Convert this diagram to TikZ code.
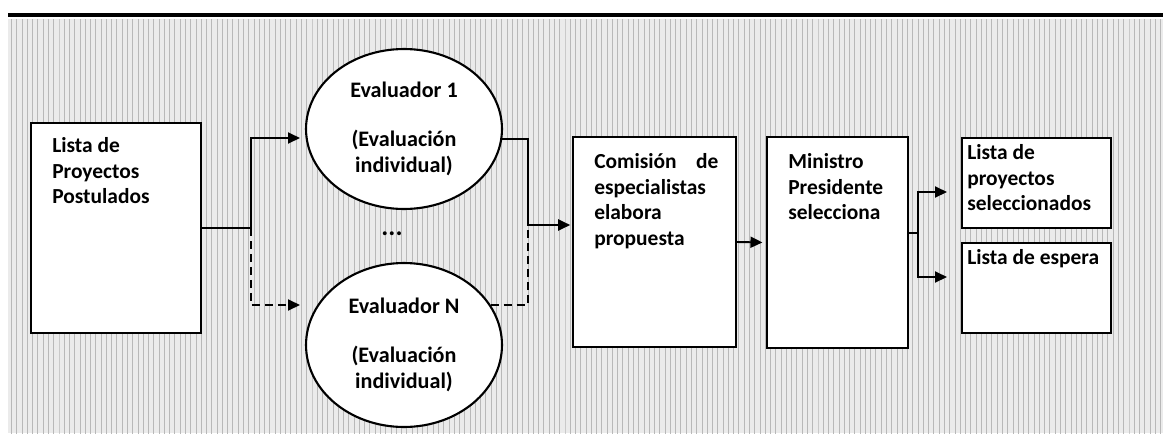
\documentclass[tikz,border=0pt]{standalone}
\usepackage{fontspec}
\setmainfont{Carlito}
\usetikzlibrary{shapes.geometric, arrows.meta, positioning, patterns}

\begin{document}
\begin{tikzpicture}[x=0.02cm, y=-0.02cm,
	box/.style={draw, line width=1.2pt, fill=white, rectangle, inner sep=0pt},
	evalnode/.style={draw, line width=1.2pt, fill=white, ellipse, inner sep=0pt, align=center, font=\bfseries\fontsize{12.6}{15}\selectfont},
	txt/.style={anchor=north west, inner sep=0pt, align=left, font=\bfseries\fontsize{12.2}{14.6}\selectfont},
	linea/.style={line width=1.1pt},
	flecha/.style={line width=1.1pt, -{Triangle[length=0.24cm, width=0.22cm]}},
	discont/.style={dash pattern=on 0.16cm off 0.1cm}]
	\useasboundingbox (0,0) rectangle (1163,433);
	\fill[black!8] (8,19) rectangle (1163,433);
	\fill[pattern=vertical lines, pattern color=black!28] (8,19) rectangle (1163,433);
	\draw[line width=1.9pt] (8,15) -- (1163,15);

	\node[box, minimum width=3.4cm, minimum height=4.2cm] (lista) at (116, 228) {};
	\node[txt] (listaT) at ([shift={(22,15)}]lista.north west) {Lista de\\Proyectos\\Postulados};

	\node[evalnode, minimum width=3.92cm, minimum height=3.2cm] (ev1) at (404, 129) {Evaluador 1\\[13pt](Evaluación\\individual)};
	\node[evalnode, minimum width=3.92cm, minimum height=3.28cm] (evN) at (404, 345) {Evaluador N\\[13pt](Evaluación\\individual)};
	\node[font=\bfseries\fontsize{15}{15}\selectfont] (dots) at (392, 234) {...};

	\node[box, minimum width=3.26cm, minimum height=4.2cm] (com) at (654.5, 242) {};
	\node[txt] (comT) at ([shift={(22,17)}]com.north west) {Comisión\hspace{0.9em}de\\especialistas\\elabora\\propuesta};

	\node[box, minimum width=2.82cm, minimum height=4.22cm] (min) at (837.5, 242.5) {};
	\node[txt] (minT) at ([shift={(22,17)}]min.north west) {Ministro\\Presidente\\selecciona};

	\node[box, minimum width=2.98cm, minimum height=1.8cm] (sel) at (1036.5, 183) {};
	\node[txt] (selT) at ([shift={(6,7)}]sel.north west) {Lista de\\proyectos\\seleccionados};
	\node[box, minimum width=2.98cm, minimum height=1.8cm] (esp) at (1036.5, 288) {};
	\node[txt] (espT) at ([shift={(6,7)}]esp.north west) {Lista de espera};

	\coordinate (sp1) at (251, 228);
	\coordinate (in1) at (300, 138);
	\coordinate (inN) at (300, 305);
	\coordinate (sp2) at (528, 225);
	\coordinate (sp3) at (918, 233);
	\coordinate (outS) at (947, 192);
	\coordinate (outE) at (947, 277);

	\draw [linea] (lista.east) -- (sp1);
	\draw [flecha] (sp1) |- (in1);
	\draw [flecha, discont] (sp1) |- (inN);
	\draw [linea] (ev1.-6) -| (sp2);
	\draw [linea, discont] (evN.25) -| (sp2);
	\draw [flecha, shorten >=1pt] (sp2) -- (sp2 -| com.west);
	\draw [flecha, shorten >=2pt] (com.east) -- (min.west);
	\draw [linea] (min.east |- sp3) -- (sp3);
	\draw [flecha] (sp3) |- (outS);
	\draw [flecha] (sp3) |- (outE);
\end{tikzpicture}
\end{document}
